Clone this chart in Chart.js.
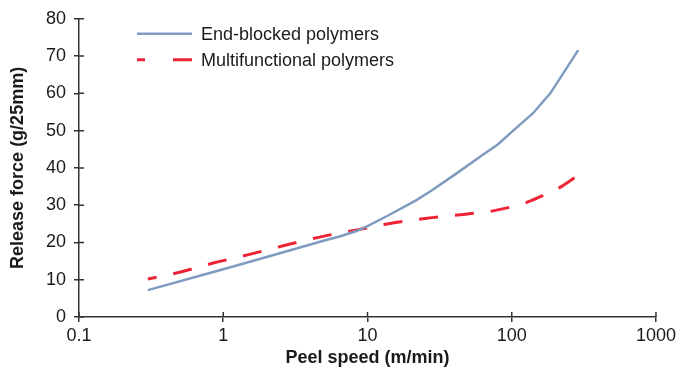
<!DOCTYPE html>
<html>
<head>
<meta charset="utf-8">
<script src="https://cdn.jsdelivr.net/npm/chart.js@4.4.1/dist/chart.umd.min.js"></script>
<style>
  html, body { margin: 0; padding: 0; background: #fff; }
  #wrap { width: 679px; height: 369px; position: relative; }
</style>
</head>
<body>
<div id="wrap"><canvas id="releaseChart" width="679" height="369"></canvas></div>
<script>
// peel speed (m/min) vs release force (g/25mm)
const speedBlocked = [0.3, 1, 2, 5.1, 6.4, 8.3, 10, 14, 21.7, 28, 41.7, 62, 80, 111, 140, 185, 289];
const forceBlocked = [7.2, 12.8, 16.1, 20.6, 21.6, 23.0, 24.4, 27.3, 31.3, 34.0, 38.6, 43.3, 46.3, 51.2, 54.6, 60, 71.6];

const speedMulti = [0.3, 0.475, 0.84, 1.52, 2.73, 5, 8.3, 13.4, 25.8, 46, 77, 126, 161, 204, 289];
const forceMulti = [10.2, 11.8, 14.4, 16.8, 19.3, 21.7, 23.3, 24.9, 26.5, 27.5, 28.6, 30.7, 32.4, 34.2, 38.0];

const seriesLabels = ['End-blocked polymers', 'Multifunctional polymers'];
const xTickValues = [0.1, 1, 10, 100, 1000];
const yTickValues = [0, 10, 20, 30, 40, 50, 60, 70, 80];

const FONT = '"Liberation Sans", Arial, Helvetica, sans-serif';
const AXIS = '#333333';
const TEXT = '#1a1a1a';

function toPoints(xs, ys) {
  return xs.map((x, i) => ({ x: x, y: ys[i] }));
}

// small ticks that poke into the plot as well (the axis ticks cross the line)
const innerTicks = {
  id: 'innerTicks',
  afterDraw(chart) {
    const ctx = chart.ctx;
    const area = chart.chartArea;
    const xs = chart.scales.x, ys = chart.scales.y;
    ctx.save();
    ctx.strokeStyle = AXIS;
    ctx.lineWidth = 1.5;
    ctx.beginPath();
    xTickValues.forEach(v => {
      const px = xs.getPixelForValue(v);
      ctx.moveTo(px, area.bottom);
      ctx.lineTo(px, area.bottom - 5);
    });
    yTickValues.forEach(v => {
      const py = ys.getPixelForValue(v);
      ctx.moveTo(area.left, py);
      ctx.lineTo(area.left + 5, py);
    });
    ctx.stroke();
    ctx.restore();
  }
};

// legend drawn inside the plot, stacked, top left
const insideLegend = {
  id: 'insideLegend',
  afterDatasetsDraw(chart) {
    const ctx = chart.ctx;
    const area = chart.chartArea;
    const x0 = area.left + 58;
    const x1 = x0 + 55;
    ctx.save();
    ctx.font = '18px ' + FONT;
    ctx.textBaseline = 'middle';
    chart.data.datasets.forEach((ds, i) => {
      const y = area.top + 15 + i * 26;
      ctx.strokeStyle = ds.borderColor;
      ctx.lineWidth = ds.borderWidth;
      ctx.setLineDash(i === 1 ? [8, 28, 20, 0] : []);
      ctx.beginPath();
      ctx.moveTo(x0, y);
      ctx.lineTo(x1, y);
      ctx.stroke();
      ctx.setLineDash([]);
      ctx.fillStyle = TEXT;
      ctx.fillText(ds.label, x1 + 9, y + 1);
    });
    ctx.restore();
  }
};

const ctx = document.getElementById('releaseChart').getContext('2d');
const releaseChart = new Chart(ctx, {
  type: 'line',
  data: {
    datasets: [{
      label: seriesLabels[0],
      data: toPoints(speedBlocked, forceBlocked),
      borderColor: '#7f9bbf',
      borderWidth: 2.5,
      pointRadius: 0,
      tension: 0,
      fill: false
    }, {
      label: seriesLabels[1],
      data: toPoints(speedMulti, forceMulti),
      borderColor: '#ee2436',
      borderWidth: 3,
      borderDash: [19, 17],
      borderDashOffset: 10,
      pointRadius: 0,
      cubicInterpolationMode: 'monotone',
      fill: false
    }]
  },
  options: {
    responsive: false,
    animation: false,
    devicePixelRatio: 1,
    layout: { padding: { left: 0, right: 21, top: 18, bottom: 0 } },
    plugins: {
      legend: { display: false },
      tooltip: { enabled: false }
    },
    scales: {
      x: {
        type: 'logarithmic',
        min: 0.1,
        max: 1000,
        afterBuildTicks: scale => { scale.ticks = xTickValues.map(v => ({ value: v })); },
        afterFit: scale => { scale.height = 52; },
        border: { color: AXIS, width: 1.5 },
        grid: { drawOnChartArea: false, drawTicks: true, tickLength: 5, color: AXIS, lineWidth: 1.5 },
        ticks: {
          color: TEXT,
          font: { family: FONT, size: 18 },
          padding: 3,
          maxRotation: 0,
          autoSkip: false,
          callback: v => String(v)
        },
        title: {
          display: true,
          text: 'Peel speed (m/min)',
          color: TEXT,
          font: { family: FONT, size: 18, weight: 'bold' },
          padding: { top: 0, bottom: 0 }
        }
      },
      y: {
        type: 'linear',
        min: 0,
        max: 80,
        afterBuildTicks: scale => { scale.ticks = yTickValues.map(v => ({ value: v })); },
        afterFit: scale => { scale.width = 79; },
        border: { color: AXIS, width: 1.5 },
        grid: { drawOnChartArea: false, drawTicks: true, tickLength: 5, color: AXIS, lineWidth: 1.5 },
        ticks: {
          color: TEXT,
          font: { family: FONT, size: 18 },
          padding: 8,
          autoSkip: false
        },
        title: {
          display: true,
          text: 'Release force (g/25mm)',
          color: TEXT,
          font: { family: FONT, size: 18, weight: 'bold' },
          padding: { top: 7, bottom: 0 }
        }
      }
    }
  },
  plugins: [innerTicks, insideLegend]
});
</script>
</body>
</html>
